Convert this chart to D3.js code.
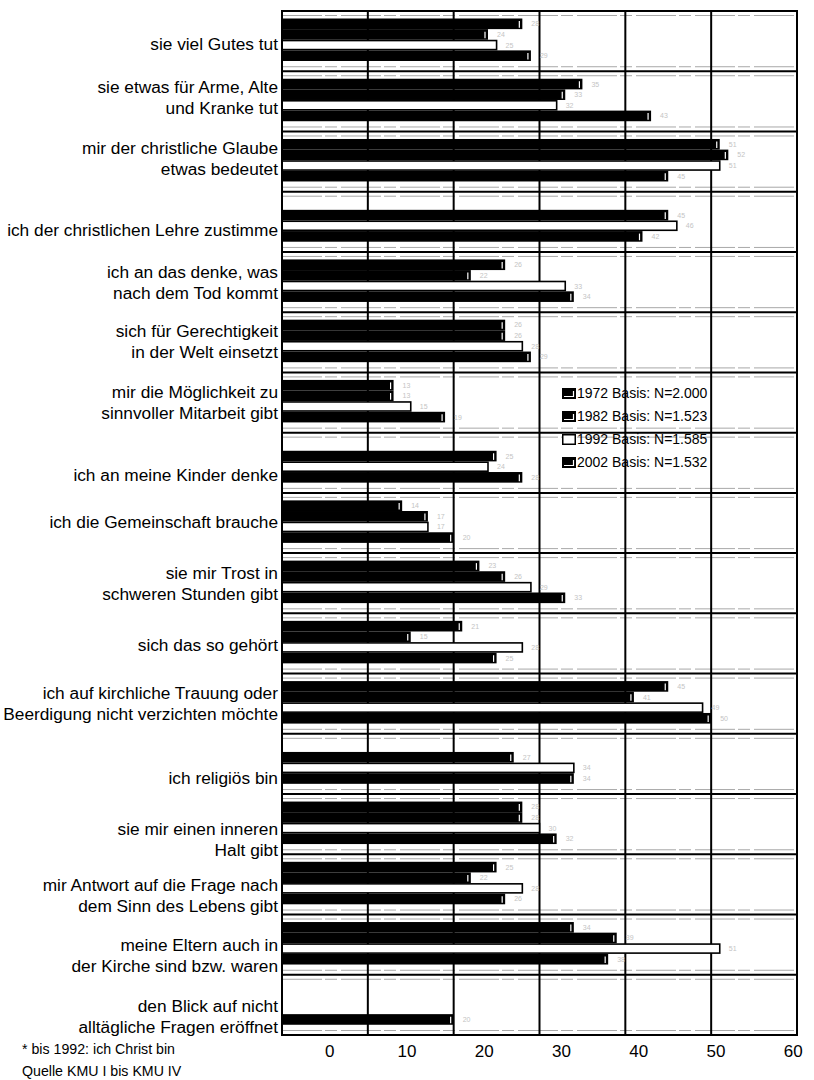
<!DOCTYPE html>
<html>
<head>
<meta charset="utf-8">
<script src="https://cdn.jsdelivr.net/npm/d3@7"></script>
<style>
  html, body { margin: 0; padding: 0; background: #fff; }
  svg { display: block; }
  text { font-family: "Liberation Sans", Arial, Helvetica, sans-serif; fill: #000; }
</style>
</head>
<body>
<svg id="chart" width="814" height="1080"></svg>
<script>
// ---------------- data ----------------
const categories = [
  "sie viel Gutes tut",
  "sie etwas für Arme, Alte\nund Kranke tut",
  "mir der christliche Glaube\netwas bedeutet",
  "ich der christlichen Lehre zustimme",
  "ich an das denke, was\nnach dem Tod kommt",
  "sich für Gerechtigkeit\nin der Welt einsetzt",
  "mir die Möglichkeit zu\nsinnvoller Mitarbeit gibt",
  "ich an meine Kinder denke",
  "ich die Gemeinschaft brauche",
  "sie mir Trost in\nschweren Stunden gibt",
  "sich das so gehört",
  "ich auf kirchliche Trauung oder\nBeerdigung nicht verzichten möchte",
  "ich religiös bin",
  "sie mir einen inneren\nHalt gibt",
  "mir Antwort auf die Frage nach\ndem Sinn des Lebens gibt",
  "meine Eltern auch in\nder Kirche sind bzw. waren",
  "den Blick auf nicht\nalltägliche Fragen eröffnet"
];
const years = ["1972", "1982", "1992", "2002"];
const values1972 = [28, 35, 51, null, 26, 26, 13, null, 14, 23, 21, 45, null, 28, 25, 34, null];
const values1982 = [24, 33, 52, 45, 22, 26, 13, 25, 17, 26, 15, 41, 27, 28, 22, 39, null];
const values1992 = [25, 32, 51, 46, 33, 28, 15, 24, 17, 29, 28, 49, 34, 30, 28, 51, null];
const values2002 = [29, 43, 45, 42, 34, 29, 19, 28, 20, 33, 25, 50, 34, 32, 26, 38, 20];
const legendLabels = ["1972 Basis: N=2.000", "1982 Basis: N=1.523", "1992 Basis: N=1.585", "2002 Basis: N=1.532"];
const xTicks = [0, 10, 20, 30, 40, 50, 60];
const footnotes = ["* bis 1992: ich Christ bin", "Quelle KMU I bis KMU IV"];

// ---------------- layout ----------------
const series = [values1972, values1982, values1992, values2002];
const seriesStyle = ["dark", "dark", "light", "dark"];
// vertical nudge of each category label (px) relative to its band centre
const labelShift = [3, -4, -3, 8, 0, -1, 0, 12, -1, 0, 1.5, 0, 14, 15, 11, 11, 11.5];

const plot = { left: 282, right: 797, top: 11, bottom: 1035 };
const svg = d3.select("#chart");
svg.append("rect").attr("width", 814).attr("height", 1080).attr("fill", "#fff");

const x = d3.scaleLinear().domain([0, 60]).range([plot.left, plot.right]);
const y = d3.scaleBand().domain(d3.range(categories.length)).range([plot.top, plot.bottom]);
const inner = d3.scaleBand().domain(years).range([7.5, 50]);
const bh = inner.bandwidth();

// grid
const grid = svg.append("g");
// faint "floor" lines inside every band
categories.forEach((c, i) => {
  const t = y(i);
  [t + 4.5, t + y.bandwidth() - 4.5].forEach(yy => {
    grid.append("line")
      .attr("x1", plot.left).attr("x2", plot.right)
      .attr("y1", yy).attr("y2", yy)
      .attr("stroke", "#a8a8a8").attr("stroke-width", 1)
      .attr("stroke-dasharray", "40 3 12 4");
  });
});
grid.selectAll("line.v").data(xTicks).join("line")
  .attr("class", "v")
  .attr("x1", d => x(d)).attr("x2", d => x(d))
  .attr("y1", plot.top).attr("y2", plot.bottom)
  .attr("stroke", "#000").attr("stroke-width", 2);
grid.selectAll("line.h").data(d3.range(categories.length + 1)).join("line")
  .attr("class", "h")
  .attr("x1", plot.left).attr("x2", plot.right)
  .attr("y1", d => plot.top + d * y.step()).attr("y2", d => plot.top + d * y.step())
  .attr("stroke", "#000").attr("stroke-width", 2);

// bars
const bars = svg.append("g");
const barData = [];
categories.forEach((c, i) => {
  years.forEach((yr, j) => {
    const v = series[j][i];
    if (v !== null && v !== undefined) barData.push({ i, j, yr, v });
  });
});
barData.forEach(d => {
  const x0 = x(0), x1 = x(d.v), yy = y(d.i) + inner(d.yr);
  if (seriesStyle[d.j] === "light") {
    bars.append("rect")
      .attr("x", x0).attr("y", yy + 0.8)
      .attr("width", x1 - x0).attr("height", bh - 1.6)
      .attr("fill", "#fff").attr("stroke", "#000").attr("stroke-width", 1.6);
  } else {
    bars.append("rect")
      .attr("x", x0).attr("y", yy)
      .attr("width", x1 - x0).attr("height", bh)
      .attr("fill", "#000");
    bars.append("line")
      .attr("x1", x1 - 3).attr("x2", x1 - 3)
      .attr("y1", yy + 2.5).attr("y2", yy + bh - 1.5)
      .attr("stroke", "#fff").attr("stroke-width", 1.2);
  }
  // faint value label
  bars.append("text")
    .attr("x", x1 + 9).attr("y", yy + bh / 2 + 2.5)
    .attr("font-size", 7).style("fill", "#c4c4c4")
    .text(d.v);
});

// border
svg.append("rect")
  .attr("x", plot.left).attr("y", plot.top)
  .attr("width", plot.right - plot.left).attr("height", plot.bottom - plot.top)
  .attr("fill", "none").attr("stroke", "#000").attr("stroke-width", 2);

// category labels
const labels = svg.append("g").attr("font-size", 17.3).attr("text-anchor", "end");
categories.forEach((c, i) => {
  const lines = c.split("\n");
  const lh = 21;
  const centre = y(i) + y.bandwidth() / 2 + labelShift[i];
  const t = labels.append("text").attr("x", 278);
  lines.forEach((ln, k) => {
    const cy = centre + (k - (lines.length - 1) / 2) * lh;
    t.append("tspan").attr("x", 278).attr("y", cy + 6).text(ln);
  });
});

// x axis (tick labels as printed in the source)
const tickPos = d3.scaleLinear().domain([0, 60]).range([x(5.5), x(59.5)]);
const axis = d3.axisBottom(tickPos).tickValues(xTicks).tickSize(0).tickPadding(10).tickFormat(d3.format("d"));
const ag = svg.append("g").attr("transform", `translate(0,${plot.bottom})`).call(axis);
ag.select(".domain").remove();
ag.selectAll("text").attr("font-size", 17).style("font-family", "'Liberation Sans', Arial, sans-serif").style("fill", "#000");

// legend
const lg = svg.append("g").attr("font-size", 14);
legendLabels.forEach((lab, j) => {
  const cy = 393 + j * 23;
  if (seriesStyle[j] === "light") {
    lg.append("rect").attr("x", 562.75).attr("y", cy - 4.25).attr("width", 12.5).attr("height", 9.5)
      .attr("fill", "#fff").attr("stroke", "#000").attr("stroke-width", 1.5);
  } else {
    lg.append("rect").attr("x", 562).attr("y", cy - 5).attr("width", 14).attr("height", 11).attr("fill", "#000");
    lg.append("path").attr("d", `M${564},${cy + 3.5} H${573.5} V${cy - 2}`)
      .attr("fill", "none").attr("stroke", "#fff").attr("stroke-width", 1.2);
  }
  lg.append("text").attr("x", 577).attr("y", cy + 5).text(lab);
});

// footnotes
const fn = svg.append("g").attr("font-size", 14.2);
footnotes.forEach((f, k) => {
  fn.append("text").attr("x", 22).attr("y", 1054 + k * 21.5).text(f);
});
</script>
</body>
</html>
